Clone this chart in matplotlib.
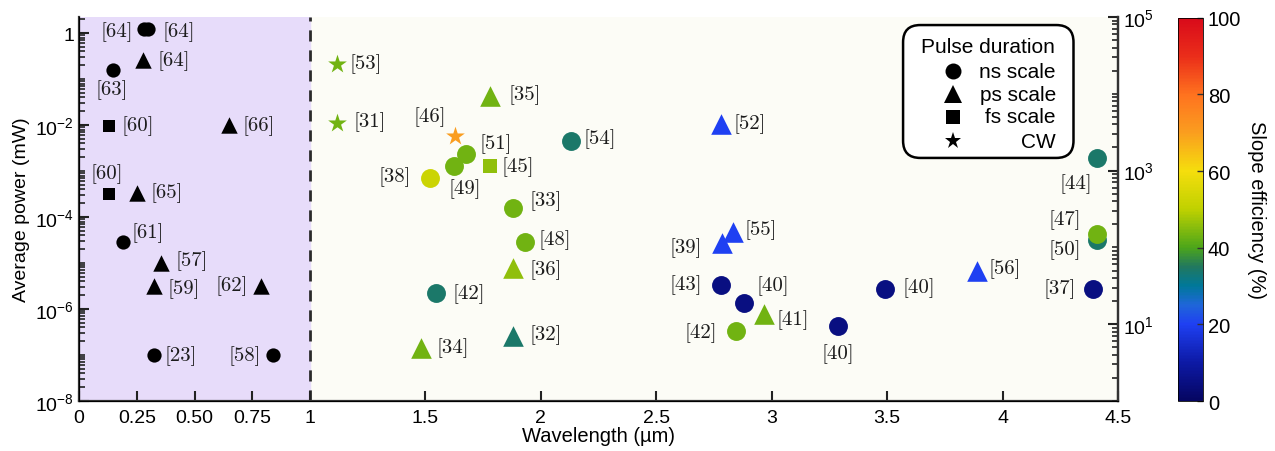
import numpy as np
import matplotlib
matplotlib.use("Agg")
import matplotlib.pyplot as plt
from matplotlib.colors import LinearSegmentedColormap, Normalize
from matplotlib.cm import ScalarMappable
from matplotlib.patches import FancyBboxPatch

plt.rcParams["font.family"] = ["Liberation Sans", "DejaVu Sans"]

# reference, wavelength (um), average power (mW), pulse regime, slope efficiency (%)
refs = ["[64]", "[64]", "[64]", "[63]", "[60]", "[66]", "[60]", "[65]",
        "[61]", "[57]", "[59]", "[62]", "[23]", "[58]",
        "[53]", "[31]", "[35]", "[46]", "[51]", "[49]", "[45]", "[38]",
        "[54]", "[33]", "[48]", "[36]", "[42]", "[32]", "[34]",
        "[52]", "[55]", "[39]", "[43]", "[40]", "[41]", "[42]", "[40]",
        "[40]", "[44]", "[50]", "[47]", "[56]", "[37]"]
wavelength = [0.28, 0.30, 0.277, 0.146, 0.131, 0.65, 0.131, 0.252,
              0.19, 0.357, 0.324, 0.79, 0.325, 0.84,
              1.115, 1.115, 1.78, 1.63, 1.675, 1.623, 1.78, 1.52,
              2.13, 1.88, 1.93, 1.88, 1.545, 1.88, 1.48,
              2.78, 2.83, 2.785, 2.78, 2.88, 2.965, 2.845, 3.285,
              3.49, 4.41, 4.41, 4.41, 3.89, 4.39]
power = [1.2, 1.2, 0.26, 0.158, 0.0097, 0.01, 3.2e-4, 3.3e-4,
         2.9e-5, 1.0e-5, 3.2e-6, 3.2e-6, 1.0e-7, 1.0e-7,
         0.21, 0.011, 0.043, 5.8e-3, 2.3e-3, 1.3e-3, 1.3e-3, 7.0e-4,
         4.5e-3, 1.6e-4, 2.9e-5, 7.9e-6, 2.2e-6, 2.6e-7, 1.4e-7,
         1.05e-2, 4.8e-5, 2.7e-5, 3.3e-6, 1.35e-6, 7.9e-7, 3.3e-7, 4.3e-7,
         2.7e-6, 1.9e-3, 3.2e-5, 4.3e-5, 6.7e-6, 2.7e-6]
pulse = ["ns", "ns", "ps", "ns", "fs", "ps", "fs", "ps",
         "ns", "ps", "ps", "ps", "ns", "ns",
         "cw", "cw", "ps", "cw", "ns", "ns", "fs", "ns",
         "ns", "ns", "ns", "ps", "ns", "ps", "ps",
         "ps", "ps", "ps", "ns", "ns", "ps", "ns", "ns",
         "ns", "ns", "ns", "ns", "ps", "ns"]
nan = np.nan
slope_eff = [nan, nan, nan, nan, nan, nan, nan, nan,
             nan, nan, nan, nan, nan, nan,
             43, 43, 43, 70, 43, 43, 46, 52,
             34, 43, 43, 46, 34, 34, 43,
             20, 20, 20, 5, 5, 43, 43, 5,
             5, 34, 34, 43, 20, 5]

# label offsets from the marker, in pixels (x right, y up)
label_off = [(-27, -2), (30, -2), (31, 0), (-1, -19), (29, 1), (30, 0), (-2, 21), (30, 1),
             (25, 10), (30, 3), (30, -2), (-30, 1), (27, 0), (-28, 0),
             (29, 1), (33, 2), (35, 2), (-26, 20), (30, 11), (11, -22), (28, 0), (-35, 2),
             (29, 3), (33, 8), (30, 3), (33, -1), (33, 0), (33, 2), (32, 1),
             (29, 1), (28, 3), (-36, -4), (-35, 1), (29, 18), (29, -5), (-35, -1), (0, -27),
             (34, 2), (-22, -25), (-33, -9), (-33, 15), (27, 3), (-33, 1)]

x_ticks = [0, 0.25, 0.5, 0.75, 1, 1.5, 2, 2.5, 3, 3.5, 4, 4.5]
x_tick_labels = ["0", "0.25", "0.50", "0.75", "1", "1.5", "2", "2.5", "3", "3.5", "4", "4.5"]

cmap = LinearSegmentedColormap.from_list("slope", [
    (0.00, (0.02, 0.02, 0.38)),
    (0.10, (0.05, 0.10, 0.65)),
    (0.20, (0.12, 0.25, 0.95)),
    (0.25, (0.12, 0.40, 0.85)),
    (0.30, (0.00, 0.47, 0.60)),
    (0.35, (0.13, 0.47, 0.37)),
    (0.40, (0.30, 0.65, 0.10)),
    (0.50, (0.75, 0.82, 0.00)),
    (0.60, (0.96, 0.87, 0.05)),
    (0.70, (0.98, 0.62, 0.12)),
    (0.80, (1.00, 0.45, 0.12)),
    (0.90, (0.92, 0.18, 0.10)),
    (1.00, (0.85, 0.04, 0.10)),
])
norm = Normalize(0, 100)

fig = plt.figure(figsize=(12.75, 4.52), dpi=100)
ax = fig.add_axes([0.062, 0.1106, 0.815, 0.8496])
ax.set_facecolor("#fcfcf6")
ax.axvspan(0, 1, color="#e7dcfa", zorder=0)
ax.axvline(1, color="#2a2a2a", lw=2, ls=(0, (4, 3.2)), zorder=1)

wl = np.array(wavelength)
pw = np.array(power)
se = np.array(slope_eff)
pl = np.array(pulse)

marker_of = {"ns": "o", "ps": "^", "fs": "s", "cw": "*"}
size_col = {"ns": 185, "ps": 220, "fs": 90, "cw": 200}
size_blk = {"ns": 105, "ps": 140, "fs": 75, "cw": 150}

for i in range(len(refs)):
    m = marker_of[pl[i]]
    if np.isnan(se[i]):
        ax.scatter(wl[i], pw[i], s=size_blk[pl[i]], marker=m, color="black",
                   linewidths=0, zorder=3)
    else:
        ax.scatter(wl[i], pw[i], s=size_col[pl[i]], marker=m, c=[se[i]],
                   cmap=cmap, norm=norm, linewidths=0, zorder=3)
    dx, dy = label_off[i]
    ax.annotate(refs[i], (wl[i], pw[i]), xytext=(dx * 0.72, dy * 0.72),
                textcoords="offset points", ha="center", va="center",
                fontsize=15, family="cmr10", color="#1c1c1c", zorder=4)

ax.set_yscale("log")
ax.set_xlim(0, 4.5)
ax.set_ylim(1e-8, 10 ** 0.35)
ax.set_xticks(x_ticks)
ax.set_xticklabels(x_tick_labels)
ax.set_yticks([1e-8, 1e-6, 1e-4, 1e-2, 1])
ax.set_yticklabels([r"$\mathregular{10^{-8}}$", r"$\mathregular{10^{-6}}$",
                    r"$\mathregular{10^{-4}}$", r"$\mathregular{10^{-2}}$", "1"])
ax.yaxis.set_minor_locator(matplotlib.ticker.LogLocator(base=10, subs=np.arange(1, 10), numticks=20))
ax.yaxis.set_minor_formatter(matplotlib.ticker.NullFormatter())
ax.tick_params(axis="both", which="major", direction="in", length=7, width=1.5,
               labelsize=14, color="#222222")
ax.tick_params(axis="x", which="major", pad=6)
ax.tick_params(axis="y", which="minor", direction="in", length=4, width=1.2, color="#222222")
ax.spines["top"].set_visible(False)
for sp in ["left", "bottom", "right"]:
    ax.spines[sp].set_linewidth(1.6)
    ax.spines[sp].set_color("#333333")
ax.set_xlabel("Wavelength (µm)", fontsize=14.5, labelpad=0)
ax.set_ylabel("Average power (mW)", fontsize=14, labelpad=4)

ax2 = ax.twinx()
ax2.set_yscale("log")
ax2.set_ylim(1, 1e5)
ax2.set_yticks([1e1, 1e3, 1e5])
ax2.set_yticklabels([r"$\mathregular{10^{1}}$", r"$\mathregular{10^{3}}$", r"$\mathregular{10^{5}}$"])
ax2.yaxis.set_minor_locator(matplotlib.ticker.LogLocator(base=10, subs=np.arange(1, 10), numticks=20))
ax2.yaxis.set_minor_formatter(matplotlib.ticker.NullFormatter())
ax2.tick_params(axis="y", which="major", direction="in", length=7, width=1.5,
                labelsize=14, color="#222222")
ax2.tick_params(axis="y", which="minor", direction="in", length=4, width=1.2, color="#222222")
ax2.spines["top"].set_visible(False)
ax2.spines["right"].set_linewidth(1.6)
ax2.spines["right"].set_color("#333333")

# legend box
box = FancyBboxPatch((0.793, 0.633), 0.164, 0.346, transform=ax.transAxes,
                     boxstyle="round,pad=0,rounding_size=0.0165", mutation_aspect=2.7,
                     facecolor="white", edgecolor="black", lw=1.8, zorder=5)
ax.add_patch(box)
ax.text(0.875, 0.924, "Pulse duration", transform=ax.transAxes, ha="center",
        va="center", fontsize=15, zorder=6)
leg_items = [("o", "ns scale", 11.5), ("^", "ps scale", 12.5), ("s", "fs scale", 10.5), ("*", "CW", 12.5)]
leg_y = [0.859, 0.799, 0.740, 0.677]
for (m, lab, ms), yy in zip(leg_items, leg_y):
    ax.plot([0.841], [yy], marker=m, ms=ms, color="black", mew=0, ls="none",
            transform=ax.transAxes, zorder=6, clip_on=False)
    ax.text(0.940, yy, lab, transform=ax.transAxes, ha="right", va="center",
            fontsize=15, zorder=6)

cax = fig.add_axes([0.924, 0.1106, 0.0196, 0.848])
cb = fig.colorbar(ScalarMappable(norm=norm, cmap=cmap), cax=cax)
cb.set_ticks([0, 20, 40, 60, 80, 100])
cb.ax.tick_params(labelsize=14.5, direction="in", length=4, width=1, color="#333333")
cb.outline.set_linewidth(0.6)
cb.set_label("Slope efficiency (%)", rotation=270, fontsize=14.5, labelpad=18)

fig.savefig("out.png", dpi=100)
